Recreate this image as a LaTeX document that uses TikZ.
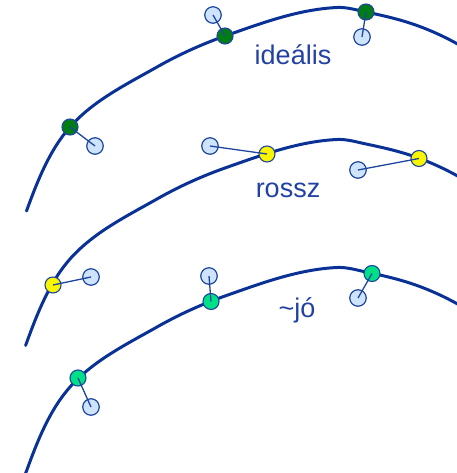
\documentclass[tikz,border=0pt]{standalone}
\usepackage{fontspec}
\setmainfont{Liberation Sans}
\definecolor{curveblue}{RGB}{10,50,150}
\definecolor{textblue}{RGB}{35,65,165}
\definecolor{lightfill}{RGB}{205,228,252}
\definecolor{outl}{RGB}{30,70,160}
\definecolor{dkgreen}{RGB}{0,125,20}
\definecolor{yel}{RGB}{250,245,0}
\definecolor{mint}{RGB}{0,225,135}
\tikzset{
  curve/.style={draw=curveblue, line width=3pt, line cap=round, line join=round},
  dot/.style={circle, inner sep=0pt, minimum size=16pt, draw=outl, line width=1.1pt},
  gdot/.style={dot, fill=dkgreen},
  ydot/.style={dot, fill=yel},
  mdot/.style={dot, fill=mint},
  free/.style={circle, inner sep=0pt, minimum size=16.5pt, draw=outl, line width=1.2pt, fill=lightfill},
  link/.style={draw=outl, line width=1.3pt},
  lab/.style={anchor=base, inner sep=0pt, text=textblue, font=\fontsize{27}{30}\selectfont}
}
\newcommand{\myarc}[2]{%
  \draw[curve, shift={(0,#1)}] #2 (26.5,211)
    .. controls (37.3,181.4) and (49.2,150.6) .. (70,127)
    .. controls (93.3,100.6) and (126.4,84.3) .. (157,67)
    .. controls (178.7,54.7) and (201.5,44.3) .. (225,36)
    .. controls (261.3,23.2) and (298.5,9.3) .. (337,7.5)
    .. controls (346.8,7.0) and (356.4,10.0) .. (366,12)
    .. controls (383.2,15.6) and (400.5,19.5) .. (417,25.5)
    .. controls (432.6,31.1) and (447.6,38.2) .. (462,46.5);}
\begin{document}
\begin{tikzpicture}[x=1pt,y=-1pt]
\useasboundingbox (0,0) rectangle (456,473);
% curves (same arc, shifted down)
\myarc{0}{}
\myarc{132}{(25.6,213.5) --}
\myarc{260}{(24.0,217) --}
% free circles
\node[free] (b1) at (95,146) {};
\node[free] (b2) at (213,15) {};
\node[free] (b3) at (362,37) {};
\node[free] (b4) at (91,277) {};
\node[free] (b5) at (210,146) {};
\node[free] (b6) at (358,170) {};
\node[free] (b7) at (91,407) {};
\node[free] (b8) at (209,276) {};
\node[free] (b9) at (358,298) {};
% dots on the curves
\node[gdot] (g1) at (70,127) {};
\node[gdot] (g2) at (225,36) {};
\node[gdot] (g3) at (366,12) {};
\node[ydot] (g4) at (53,285) {};
\node[ydot] (g5) at (267,154) {};
\node[ydot] (g6) at (419,158.5) {};
\node[mdot] (g7) at (78,378) {};
\node[mdot] (g8) at (211,301.5) {};
\node[mdot] (g9) at (372,273.5) {};
% links
\draw[link] (g1.center) -- (b1.center);
\draw[link] (g2.center) -- (b2.center);
\draw[link] (g3.center) -- (b3.center);
\draw[link] (g4.center) -- (b4.center);
\draw[link] (g5.center) -- (b5.center);
\draw[link] (g6.center) -- (b6.center);
\draw[link] (g7.center) -- (b7.center);
\draw[link] (g8.center) -- (b8.center);
\draw[link] (g9.center) -- (b9.center);
% labels
\node[lab] (t1) at (293,65) {ideális};
\node[lab] (t2) at (288,197) {rossz};
\node[lab] (t3) at (297,317) {\char`\~jó};
\end{tikzpicture}
\end{document}
